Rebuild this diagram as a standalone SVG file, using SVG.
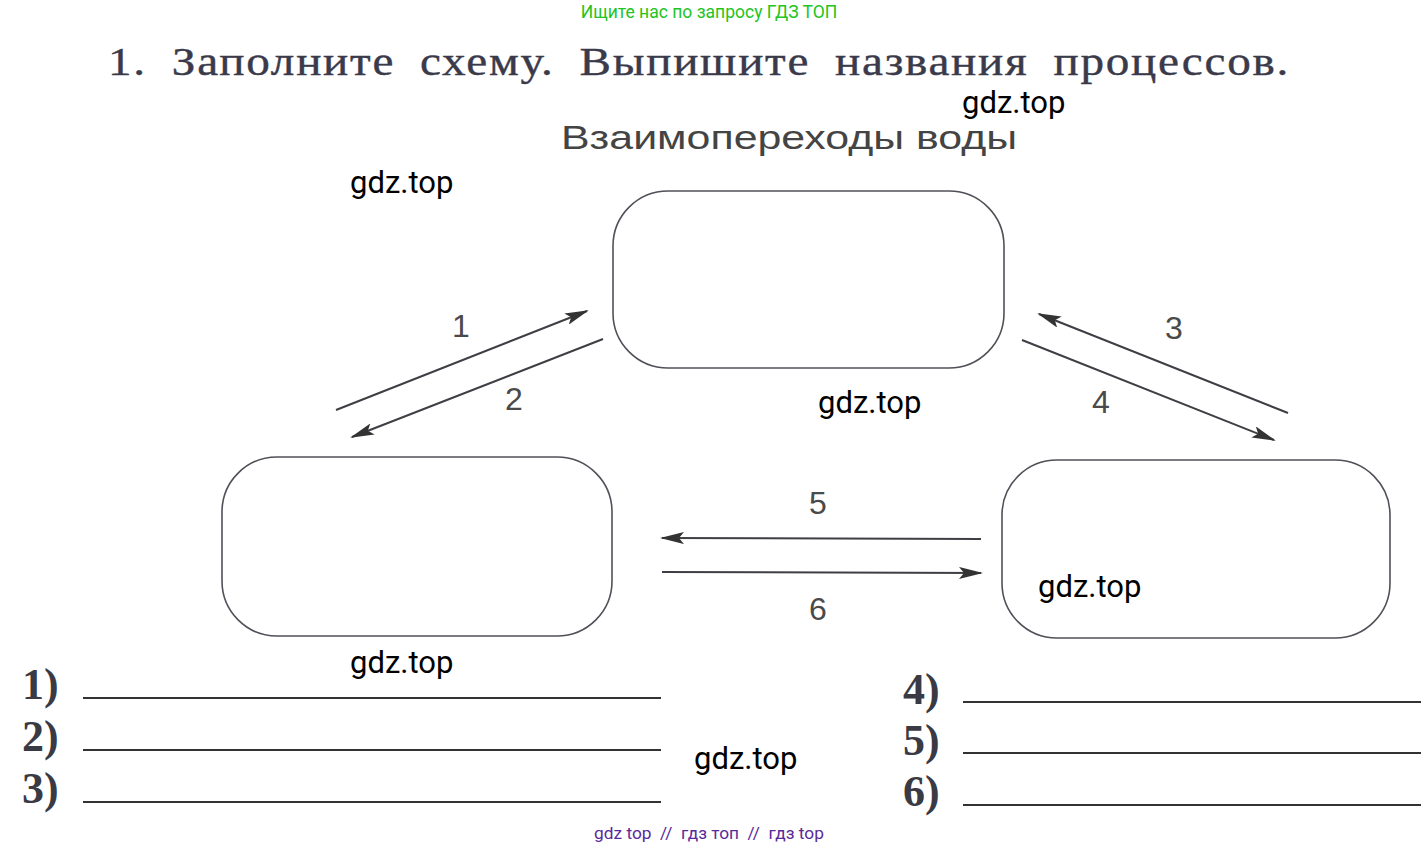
<svg xmlns="http://www.w3.org/2000/svg" width="1421" height="848" viewBox="0 0 1421 848">
<style>
.box{fill:none;stroke:#505058;stroke-width:1.6}
.con{stroke:#3e3e44;stroke-width:2;fill:none;marker-end:url(#ah)}
.num{font-family:"Liberation Sans",Arial,sans-serif;font-size:32px;fill:#4a4a4a;text-anchor:middle}
.wm{font-family:Roboto,"Liberation Sans",sans-serif;font-size:31px;fill:#000}
.lbl{font-family:"Liberation Serif","Times New Roman",serif;font-weight:bold;font-size:44px;fill:#3a3a44}
.ln{stroke:#333;stroke-width:2}
</style>
<defs>
<marker id="ah" viewBox="0 0 24 12" refX="22" refY="6" markerWidth="24" markerHeight="12" markerUnits="userSpaceOnUse" orient="auto">
<path d="M0,0 L24,6 L0,12 L5,6 Z" fill="#333"/>
</marker>
</defs>
<rect width="1421" height="848" fill="#fff"/>
<text x="709" y="18" font-family="Roboto,'Liberation Sans',sans-serif" font-size="17.5" fill="#22c422" text-anchor="middle">Ищите нас по запросу ГДЗ ТОП</text>
<text x="108" y="75" font-family="'Liberation Serif','Times New Roman',serif" font-size="41" word-spacing="10" letter-spacing="1.5" fill="#3a3a4a" stroke="#3a3a4a" stroke-width="0.4" textLength="1182" lengthAdjust="spacingAndGlyphs">1. Заполните схему. Выпишите названия процессов.</text>
<text x="789" y="149" font-family="'Liberation Sans',Arial,sans-serif" font-size="34" fill="#444" text-anchor="middle" textLength="456" lengthAdjust="spacingAndGlyphs">Взаимопереходы воды</text>
<g id="node-top"><rect class="box" x="613" y="191" width="391" height="177" rx="55" ry="55"/></g>
<g id="node-left"><rect class="box" x="222" y="457" width="390" height="179" rx="55" ry="55"/></g>
<g id="node-right"><rect class="box" x="1002" y="460" width="388" height="178" rx="55" ry="55"/></g>
<g id="connectors">
<line class="con" x1="336" y1="410" x2="587" y2="311"/>
<line class="con" x1="603" y1="339" x2="352" y2="437"/>
<line class="con" x1="1288" y1="413" x2="1039" y2="314"/>
<line class="con" x1="1022" y1="340" x2="1274" y2="440"/>
<line class="con" x1="981" y1="539" x2="662" y2="538"/>
<line class="con" x1="662" y1="572" x2="981" y2="573"/>
</g>
<g id="labels">
<text class="num" x="461" y="337">1</text>
<text class="num" x="514" y="410">2</text>
<text class="num" x="1174" y="339">3</text>
<text class="num" x="1101" y="413">4</text>
<text class="num" x="818" y="514">5</text>
<text class="num" x="818" y="620">6</text>
</g>
<g id="answers">
<text class="lbl" x="22" y="699">1)</text>
<text class="lbl" x="22" y="751">2)</text>
<text class="lbl" x="22" y="803">3)</text>
<line class="ln" x1="83" y1="698" x2="661" y2="698"/>
<line class="ln" x1="83" y1="750" x2="661" y2="750"/>
<line class="ln" x1="83" y1="802" x2="661" y2="802"/>
<text class="lbl" x="903" y="704">4)</text>
<text class="lbl" x="903" y="755">5)</text>
<text class="lbl" x="903" y="806">6)</text>
<line class="ln" x1="963" y1="702" x2="1421" y2="702"/>
<line class="ln" x1="963" y1="753" x2="1421" y2="753"/>
<line class="ln" x1="963" y1="805" x2="1421" y2="805"/>
</g>
<g id="watermarks">
<text class="wm" x="350" y="193">gdz.top</text>
<text class="wm" x="962" y="113">gdz.top</text>
<text class="wm" x="818" y="413">gdz.top</text>
<text class="wm" x="1038" y="597">gdz.top</text>
<text class="wm" x="350" y="673">gdz.top</text>
<text class="wm" x="694" y="769">gdz.top</text>
</g>
<text x="709" y="839" font-family="Roboto,'Liberation Sans',sans-serif" font-size="17.3" fill="#5a2a9a" text-anchor="middle" xml:space="preserve">gdz top  //  гдз топ  //  гдз top</text>
</svg>
